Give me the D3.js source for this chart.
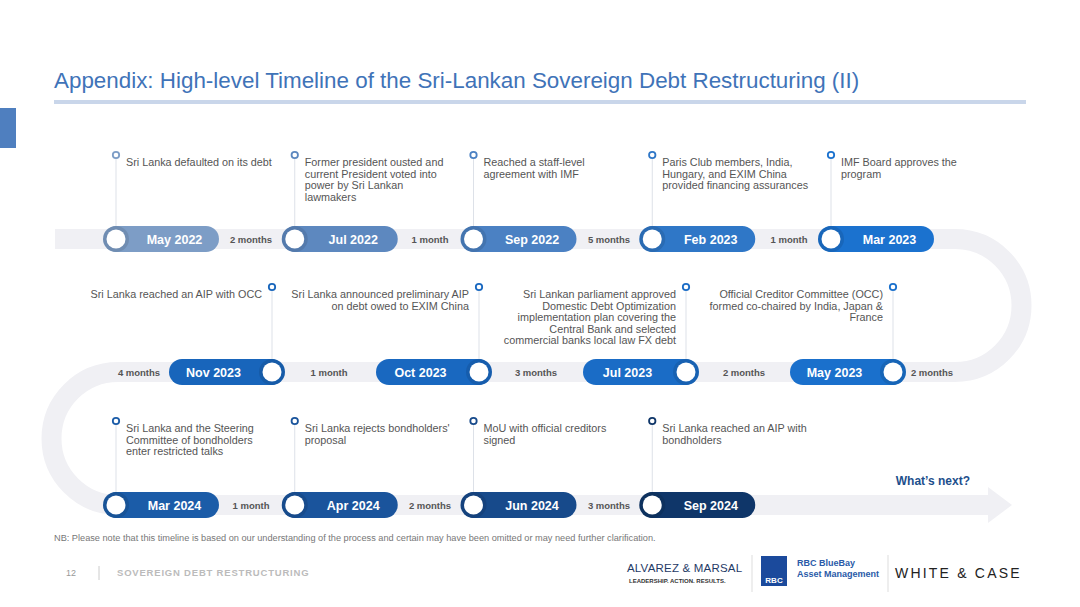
<!DOCTYPE html>
<html><head><meta charset="utf-8">
<script src="https://cdn.jsdelivr.net/npm/d3@7"></script>
<style>body{margin:0;background:#fff;font-family:"Liberation Sans",Arial,sans-serif}</style>
</head><body><svg id="c" width="1080" height="607"></svg>
<script>
const dates = ["May 2022","Jul 2022","Sep 2022","Feb 2023","Mar 2023","May 2023","Jul 2023","Oct 2023","Nov 2023","Mar 2024","Apr 2024","Jun 2024","Sep 2024"];
const rowOf = [0,0,0,0,0,1,1,1,1,2,2,2,2];
const slotOf = [0,1,2,3,4,4,3,2,1,0,1,2,3];
const events = [
 ["Sri Lanka defaulted on its debt"],
 ["Former president ousted and","current President voted into","power by Sri Lankan","lawmakers"],
 ["Reached a staff-level","agreement with IMF"],
 ["Paris Club members, India,","Hungary, and EXIM China","provided financing assurances"],
 ["IMF Board approves the","program"],
 ["Official Creditor Committee (OCC)","formed co-chaired by India, Japan &","France"],
 ["Sri Lankan parliament approved","Domestic Debt Optimization","implementation plan covering the","Central Bank and selected","commercial banks local law FX debt"],
 ["Sri Lanka announced preliminary AIP","on debt owed to EXIM China"],
 ["Sri Lanka reached an AIP with OCC"],
 ["Sri Lanka and the Steering","Committee of bondholders","enter restricted talks"],
 ["Sri Lanka rejects bondholders'","proposal"],
 ["MoU with official creditors","signed"],
 ["Sri Lanka reached an AIP with","bondholders"]
];
const gaps = ["2 months","1 month","5 months","1 month","2 months","2 months","3 months","1 month","4 months","1 month","2 months","3 months"];
const colors = ["#7d9dc6","#5d88bf","#4b81c3","#2f77c7","#1b72cf","#1a70cc","#1a6cc6","#1968c0","#1865bb","#1b5ca8","#1a549c","#174a8b","#0f3669"];

const svg = d3.select("#c");
const xA = d3.scaleLinear().domain([0,4]).range([116,831]);
const xB = d3.scaleLinear().domain([1,4]).range([272,893]);
const rowY = d3.scaleLinear().domain([0,2]).range([239,505]);
const markY = [155,287,421];

svg.append("rect").attr("x",0).attr("y",108).attr("width",16).attr("height",40).attr("fill","#4f7fbf");
svg.append("text").attr("x",54).attr("y",88).attr("font-size",22.4).attr("fill","#3f73b8").text("Appendix: High-level Timeline of the Sri-Lankan Sovereign Debt Restructuring (II)");
svg.append("rect").attr("x",54).attr("y",100).attr("width",972).attr("height",4).attr("fill","#c9d6ea");

const tc="#f0f0f4";
const path = `M55,239 L955,239 A66.5,66.5 0 0 1 955,372 L118,372 A66.5,66.5 0 0 0 118,505 L990,505`;
svg.append("path").attr("d",path).attr("fill","none").attr("stroke",tc).attr("stroke-width",20);
svg.append("path").attr("d","M988,487 L1012,505 L988,523 Z").attr("fill",tc);

const pillW=115,pillH=26;
dates.forEach((d,i)=>{
  const r=rowOf[i], cy=rowY(r), my=markY[r];
  const right = r===1;
  const cx = right? xB(slotOf[i]) : xA(slotOf[i]);
  const g=svg.append("g");
  g.append("line").attr("x1",cx).attr("x2",cx).attr("y1",my+4).attr("y2",cy-10).attr("stroke","#dde1e8").attr("stroke-width",1);
  g.append("circle").attr("cx",cx).attr("cy",my).attr("r",3.2).attr("fill","#fff").attr("stroke",colors[i]).attr("stroke-width",1.8);
  const px = right? cx+12-pillW : cx-12;
  g.append("rect").attr("x",px).attr("y",cy-pillH/2).attr("width",pillW).attr("height",pillH).attr("rx",13).attr("fill",colors[i]);
  g.append("circle").attr("cx",cx).attr("cy",cy).attr("r",13).attr("fill",d3.color(colors[i]).darker(0.3));
  g.append("circle").attr("cx",cx).attr("cy",cy).attr("r",9.5).attr("fill","#fff");
  g.append("text").attr("x",right? px+(pillW-26)/2 : px+26+(pillW-26)/2).attr("y",cy+4.5).attr("text-anchor","middle")
   .attr("font-size",12.5).attr("font-weight","bold").attr("fill","#fff").text(d);
  const t=g.append("text").attr("font-size",10.8).attr("fill","#555");
  const tx = right? cx-10 : cx+10, anc = right? "end":"start";
  events[i].forEach((l,k)=>t.append("tspan").attr("x",tx).attr("y",my+11+k*11.5).attr("text-anchor",anc).text(l));
});
const gapXY=[[251,0],[430,0],[609,0],[789,0],[932,1],[744,1],[536,1],[329,1],[139,1],[251,2],[430,2],[609,2]];
gaps.forEach((g,i)=>{
  svg.append("text").attr("x",gapXY[i][0]).attr("y",rowY(gapXY[i][1])+3.5).attr("text-anchor","middle")
   .attr("font-size",9.5).attr("font-weight","bold").attr("fill","#555").text(g);
});
svg.append("text").attr("x",970).attr("y",485).attr("text-anchor","end").attr("font-size",12).attr("font-weight","bold").attr("fill","#1d4f8c").text("What’s next?");
svg.append("text").attr("x",54).attr("y",541).attr("font-size",9.2).attr("fill","#777").text("NB: Please note that this timeline is based on our understanding of the process and certain may have been omitted or may need further clarification.");
svg.append("text").attr("x",66).attr("y",576).attr("font-size",9).attr("fill","#999").text("12");
svg.append("line").attr("x1",99).attr("x2",99).attr("y1",566).attr("y2",580).attr("stroke","#ccc");
svg.append("text").attr("x",117).attr("y",576).attr("font-size",9.5).attr("font-weight","bold").attr("letter-spacing",0.8).attr("fill","#bbb").text("SOVEREIGN DEBT RESTRUCTURING");
svg.append("text").attr("x",627).attr("y",572).attr("font-size",11.5).attr("fill","#1f3a66").attr("letter-spacing",0.2).text("ALVAREZ & MARSAL");
svg.append("text").attr("x",629).attr("y",583).attr("font-size",6).attr("font-weight","bold").attr("fill","#333").text("LEADERSHIP. ACTION. RESULTS.");
svg.append("line").attr("x1",752).attr("x2",752).attr("y1",555).attr("y2",592).attr("stroke","#ddd");
svg.append("rect").attr("x",761).attr("y",556).attr("width",26).attr("height",30).attr("fill","#1b4a9c");
svg.append("text").attr("x",774).attr("y",583).attr("text-anchor","middle").attr("font-size",8).attr("font-weight","bold").attr("fill","#fff").text("RBC");
svg.append("text").attr("x",797).attr("y",566).attr("font-size",9).attr("font-weight","bold").attr("fill","#2a5aa8").text("RBC BlueBay");
svg.append("text").attr("x",797).attr("y",577).attr("font-size",9).attr("font-weight","bold").attr("fill","#2a5aa8").text("Asset Management");
svg.append("line").attr("x1",888).attr("x2",888).attr("y1",555).attr("y2",592).attr("stroke","#ddd");
svg.append("text").attr("x",895).attr("y",578).attr("font-size",14).attr("letter-spacing",2.2).attr("fill","#222").text("WHITE & CASE");
</script></body></html>
